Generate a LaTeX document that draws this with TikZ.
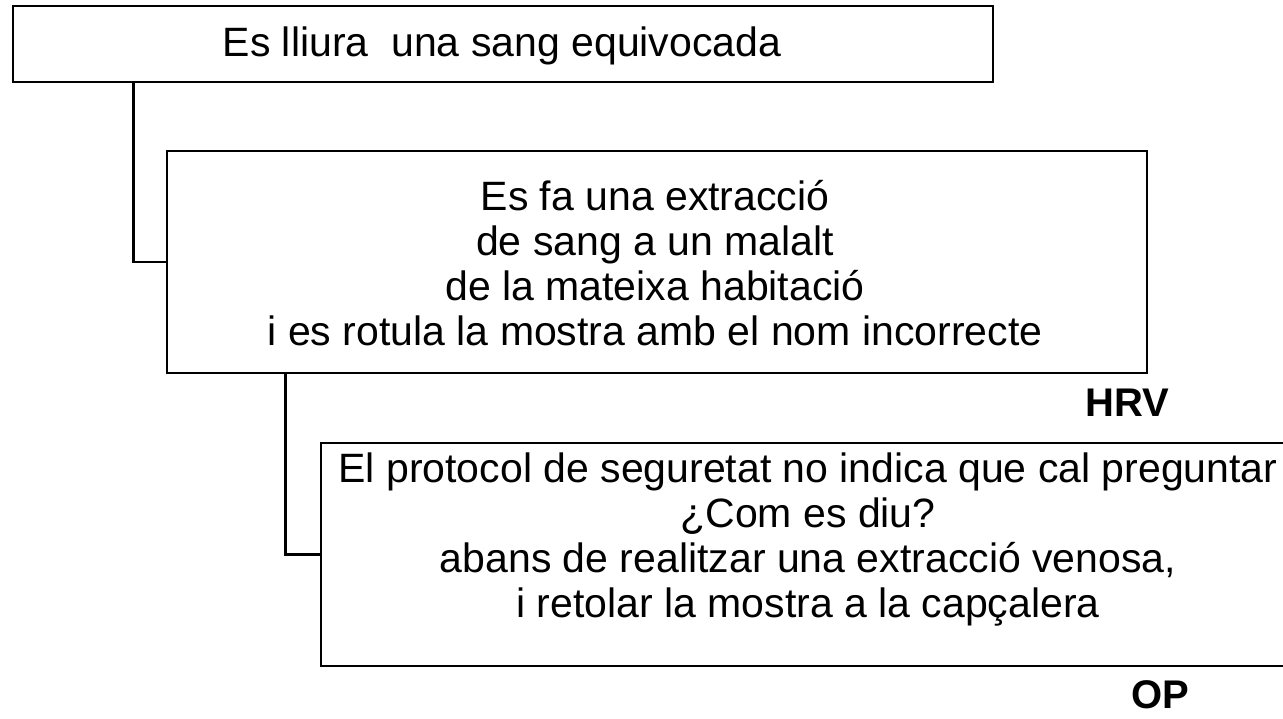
\documentclass[tikz,border=0pt]{standalone}
\usepackage{fontspec}
\setmainfont{Liberation Sans}
\usetikzlibrary{calc}
\tikzset{
  boxnode/.style={draw=black, line width=2.6pt, rectangle, inner sep=0pt},
  txt/.style={align=center, inner sep=0pt, font=\fontsize{41}{45}\selectfont},
  tag/.style={inner sep=0pt, font=\fontsize{40}{44}\selectfont\bfseries},
  link/.style={draw=black, line width=2.6pt}
}
\begin{document}
\begin{tikzpicture}[x=1pt,y=-1pt]
\useasboundingbox[fill=white] (0,0) rectangle (1283,718);
\node[boxnode, minimum width=980pt, minimum height=76pt] (b1) at (503,44) {};
\node[boxnode, minimum width=980pt, minimum height=222pt] (b2) at (657,262) {};
\node[boxnode, minimum width=974pt, minimum height=223pt] (b3) at (808,554.5) {};
\node[txt] (t1) at (502,46) {Es lliura\ \ una sang equivocada};
\node[txt] (t2) at (655,263) {Es fa una extracció\\de sang a un malalt\\de la mateixa habitació\\i es rotula la mostra amb el nom incorrecte};
\node[txt] (t3) at (808,539) {El protocol de seguretat no indica que cal preguntar\\¿Com es diu?\\abans de realitzar una extracció venosa,\\i retolar la mostra a la capçalera};
\node[tag] (hrv) at (1127,403) {HRV};
\node[tag] (op) at (1160,695) {OP};
\draw[link] ($(b1.south west)+(122,0)$) |- (b2.west);
\draw[link] ($(b2.south west)+(120,0)$) |- (b3.west);
\end{tikzpicture}
\end{document}
